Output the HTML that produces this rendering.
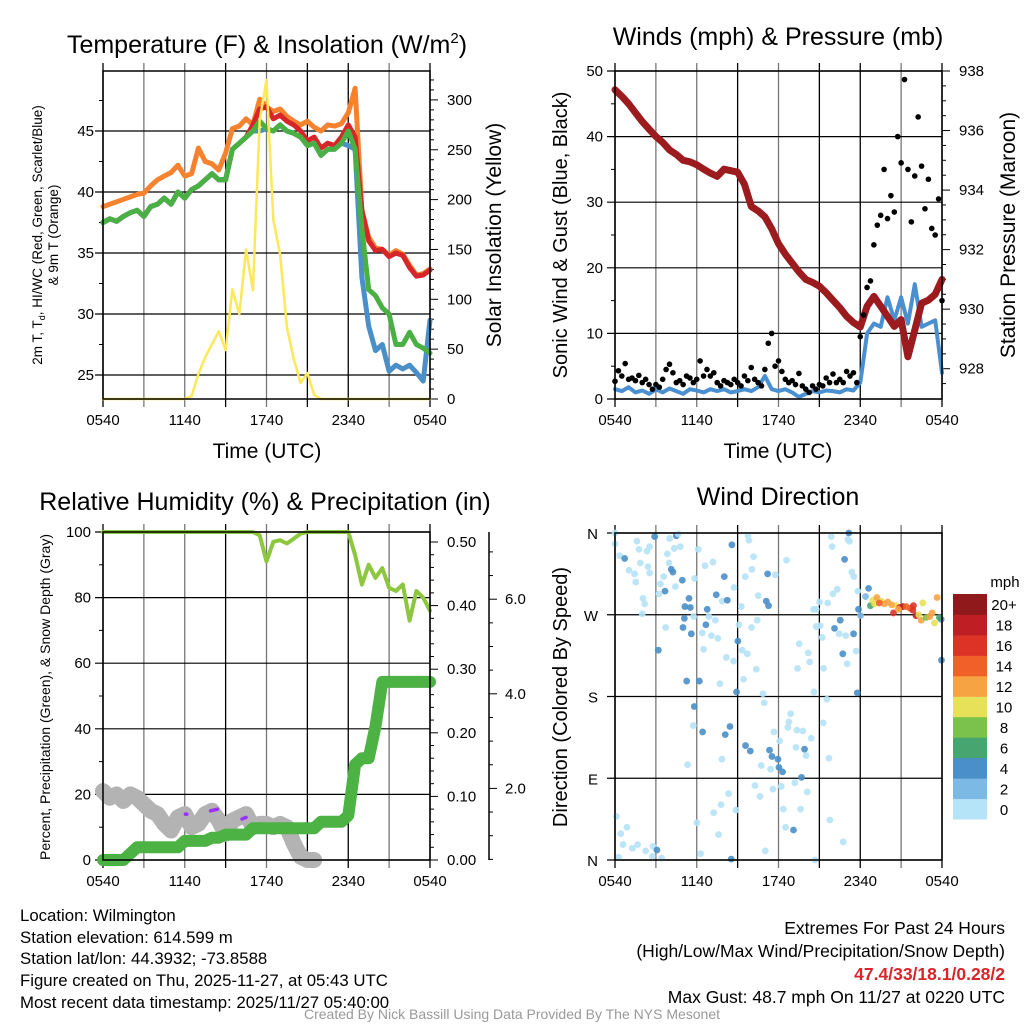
<!DOCTYPE html>
<html><head><meta charset="utf-8"><style>
html,body{margin:0;padding:0;background:#fff;}
svg{display:block;font-family:"Liberation Sans",Arial,sans-serif;}
</style></head><body>
<svg id="chart" width="1024" height="1024" viewBox="0 0 1024 1024" xmlns="http://www.w3.org/2000/svg">
<rect x="0" y="0" width="1024" height="1024" fill="#fff"/>
<text x="267" y="53" font-size="25" text-anchor="middle">Temperature (F) &amp; Insolation (W/m<tspan dy="-10" font-size="15">2</tspan><tspan dy="10">)</tspan></text>
<text x="778" y="45" font-size="25" text-anchor="middle">Winds (mph) &amp; Pressure (mb)</text>
<text x="265" y="510" font-size="25" text-anchor="middle">Relative Humidity (%) &amp; Precipitation (in)</text>
<text x="778" y="505" font-size="25" text-anchor="middle">Wind Direction</text>

<text x="267" y="458" font-size="21" text-anchor="middle">Time (UTC)</text>
<text x="778" y="458" font-size="21" text-anchor="middle">Time (UTC)</text>
<text transform="translate(42,235) rotate(-90)" font-size="13.5" text-anchor="middle">2m T, T<tspan dy="3" font-size="9">d</tspan><tspan dy="-3">, HI/WC (Red, Green, Scarlet/Blue)</tspan></text>
<text transform="translate(58,235) rotate(-90)" font-size="13.5" text-anchor="middle">&amp; 9m T (Orange)</text>
<text transform="translate(501,235) rotate(-90)" font-size="21" text-anchor="middle">Solar Insolation (Yellow)</text>
<text transform="translate(567,235) rotate(-90)" font-size="20" text-anchor="middle">Sonic Wind &amp; Gust (Blue, Black)</text>
<text transform="translate(1015,235) rotate(-90)" font-size="21" text-anchor="middle">Station Pressure (Maroon)</text>
<text transform="translate(50,697) rotate(-90)" font-size="14" text-anchor="middle">Percent, Precipitation (Green), &amp; Snow Depth (Gray)</text>
<text transform="translate(567,697) rotate(-90)" font-size="20" text-anchor="middle">Direction (Colored By Speed)</text>

<g font-size="16.8">
<text x="20" y="921">Location: Wilmington</text>
<text x="20" y="943">Station elevation: 614.599 m</text>
<text x="20" y="964">Station lat/lon: 44.3932; -73.8588</text>
<text x="20" y="986">Figure created on Thu, 2025-11-27, at 05:43 UTC</text>
<text x="20" y="1008">Most recent data timestamp: 2025/11/27 05:40:00</text>
</g>
<g font-size="17.5" text-anchor="end">
<text x="1005" y="934">Extremes For Past 24 Hours</text>
<text x="1005" y="957">(High/Low/Max Wind/Precipitation/Snow Depth)</text>
<text x="1005" y="980" fill="#d7262a" font-weight="bold">47.4/33/18.1/0.28/2</text>
<text x="1005" y="1003">Max Gust: 48.7 mph On 11/27 at 0220 UTC</text>
</g>
<text x="512" y="1019" font-size="14" fill="#999" text-anchor="middle">Created By Nick Bassill Using Data Provided By The NYS Mesonet</text>
<g id="layer"></g>
</svg>
<script>
// ---------- data (half-hourly from 0540 UTC) ----------
const xTickLabels = ["0540","1140","1740","2340","0540"];
const orangeT = [38.8,39.0,39.2,39.4,39.6,39.8,39.9,40.5,41.0,41.3,41.6,42.2,41.3,41.5,43.6,42.5,42.3,41.8,43.2,45.2,45.4,46.0,45.5,47.6,47.0,46.6,46.8,46.2,45.8,45.5,45.8,45.3,45.0,45.5,45.4,45.6,46.5,48.5,38.5,36.3,35.4,35.3,34.8,35.2,34.9,34.0,33.2,33.3,33.7];
const redT = [37.5,37.8,37.6,38.0,38.3,38.5,38.0,38.8,39.0,39.5,39.0,40.0,39.5,40.2,40.5,41.0,41.5,41.0,41.0,43.5,44.0,44.5,45.5,46.8,47.0,46.0,46.3,45.8,45.5,45.0,44.2,44.5,43.6,44.0,43.8,44.5,45.5,44.5,38.5,36.0,35.2,35.3,34.7,35.0,34.8,33.8,33.1,33.2,33.6];
const greenT = [37.5,37.8,37.6,38.0,38.3,38.5,38.0,38.8,39.0,39.5,39.0,40.0,39.5,40.2,40.5,41.0,41.5,41.0,41.0,43.5,44.0,44.5,45.0,45.8,45.2,45.0,45.5,45.0,44.8,44.5,43.8,44.0,43.0,43.5,43.5,44.0,45.0,43.5,37.0,32.0,31.5,30.5,30.0,27.5,27.5,28.5,27.5,27.2,26.8];
const blueT = [37.5,37.8,37.6,38.0,38.3,38.5,38.0,38.8,39.0,39.5,39.0,40.0,39.5,40.2,40.5,41.0,41.5,41.0,41.0,43.5,44.0,44.5,45.0,45.0,45.2,45.0,45.5,45.0,44.8,44.5,43.8,44.0,43.0,43.5,43.5,44.0,43.8,43.5,33.0,29.0,27.0,27.5,25.3,25.8,25.5,25.8,25.2,24.5,29.5];
const solar = [0,0,0,0,0,0,0,0,0,0,0,0,0,3,25,42,55,68,49,110,85,150,109,280,320,180,145,72,40,16,26,4,0,0,0,0,0,0,0,0,0,0,0,0,0,0,0,0,0];
const windSpeed = [1.5,1.2,1.8,1.0,1.3,0.8,1.5,1.0,1.6,1.2,0.8,1.5,1.3,1.0,1.5,1.2,1.5,1.0,1.2,1.5,1.2,1.8,3.5,1.5,1.2,1.5,1.0,0.3,0.8,1.2,1.0,1.3,1.2,1.0,1.5,1.3,2.5,10.0,11.5,11.0,15.5,12.0,15.5,11.5,17.5,11.0,11.5,12.0,4.0];
const pressure = [937.37,937.15,936.9,936.6,936.3,936.05,935.8,935.6,935.35,935.2,935.0,934.95,934.85,934.7,934.57,934.46,934.7,934.65,934.6,934.2,933.45,933.3,933.1,932.7,932.2,931.85,931.55,931.25,931.0,930.9,930.77,930.55,930.3,930.05,929.76,929.55,929.4,930.1,930.43,930.1,929.76,929.42,929.65,928.4,929.3,930.2,930.3,930.5,931.0];
// gusts every 15 minutes
const gusts = [2.7,4.3,3.5,5.4,3.0,3.2,2.8,3.6,2.5,3.0,2.2,1.5, 2.2,1.8,3.0,4.5,5.3,4.0,2.5,2.8,2.2,3.5,3.2,2.5, 3.0,5.8,3.5,4.5,3.5,4.0,2.5,2.0,2.8,2.5,2.2,3.0, 2.5,2.0,3.5,2.8,4.8,3.0,2.5,2.0,4.5,8.5,10.0,5.0, 5.8,4.2,3.0,2.5,2.8,2.2,3.9,2.0,1.5,1.0,2.0,1.5, 2.2,2.0,3.2,2.5,3.8,2.5,3.0,2.5,4.2,3.5,4.0,2.5, 9.5,12.8,17.0,18.0,23.5,26.5,28.0,35.0,27.5,31.0,28.5,40.0, 36.0,48.7,35.0,27.0,34.0,43.0,35.5,29.0,33.5,26.0,25.0,30.5, 15.0];
const humidity = [100,100,100,100,100,100,100,100,100,100,100,100,100,100,100,100,100,100,100,100,100,100,100,99,91,97,97.5,96.5,98,99.5,100,100,100,100,100,100,100,93,84,90,86,89,83,82,84,73,82,80,76];
const precip = [0,0,0,0,0.01,0.02,0.02,0.02,0.02,0.02,0.02,0.02,0.03,0.03,0.03,0.03,0.035,0.035,0.04,0.04,0.04,0.04,0.05,0.05,0.05,0.05,0.05,0.05,0.05,0.05,0.05,0.05,0.06,0.06,0.06,0.06,0.07,0.15,0.16,0.16,0.21,0.28,0.28,0.28,0.28,0.28,0.28,0.28,0.28];
const snowDepth = [21,19,20,18,20,19,17,15,14,11,9,13,14,10,11,14,15,12,8,12,13,14,10,11,11,10,11,10,5,1,0,0];
const purpleHours = [[6.05,6.15],[7.9,8.4],[10.2,10.5]];
const purpleVals = [[14,14],[15,15.5],[12.5,13]];
// wind direction observations
const dirHours = [0.0,0.0,0.34,0.71,1.03,1.44,1.52,1.61,1.76,1.86,2.05,2.18,2.0,2.35,2.54,2.42,2.54,2.91,3.33,3.57,3.67,3.23,3.72,3.18,3.84,4.01,4.13,4.25,3.96,4.35,4.5,4.65,4.79,4.43,4.94,5.13,5.43,5.09,4.99,5.6,5.53,5.84,6.11,5.77,6.6,6.77,6.67,6.41,6.5,6.89,7.19,7.36,7.43,7.07,7.55,7.87,8.02,8.24,8.17,8.73,9.1,9.27,9.02,9.56,9.76,9.83,10.17,10.05,9.34,9.71,8.7,8.58,10.51,10.44,10.02,11.2,11.76,11.1,11.27,12.59,10.37,9.44,10.86,10.95,8.92,7.7,5.26,6.19,5.82,5.75,6.43,8.09,8.44,7.85,5.33,9.58,9.93,11.34,11.52,11.96,12.03,12.3,10.73,11.42,11.66,12.08,12.89,12.76,12.69,13.35,13.79,14.4,13.91,13.28,14.03,15.7,15.28,15.55,14.6,13.52,14.18,14.28,13.4,15.31,15.21,14.77,15.06,14.77,15.01,14.57,15.62,15.99,16.31,15.94,15.87,17.16,17.21,17.09,16.85,17.38,17.53,17.82,16.53,16.11,16.45,16.72,17.04,17.51,16.94,17.7,17.78,12.2,13.69,13.2,14.11,13.62,11.59,10.27,10.64,8.34,8.88,7.78,7.24,7.6,6.01,6.28,8.53,11.03,14.69,15.77,16.75,12.35,12.52,13.1,0.1,0.42,0.59,0.88,1.27,1.66,2.25,2.79,3.08,2.74,3.42,0.27,23.96,23.94,17.87,18.02,18.39,18.61,18.75,18.92,19.22,19.54,20.02,20.44,20.64,20.88,21.12,21.66,22.1,22.47,22.59,22.84,23.28,23.45,23.64,23.81,19.05,19.78,21.37,21.86,19.4,20.3,20.8,21.9,22.3,23.1];
const dirDegrees = [360,348,335,332,319,315,306,351,342,327,288,282,271,340,345,323,316,356,304,312,296,293,256,231,337,354,320,317,327,343,357,359,345,301,308,279,288,266,256,249,278,310,342,268,324,276,259,250,232,268,328,264,292,247,244,285,312,286,223,300,259,279,241,312,357,352,334,320,231,227,219,347,291,264,256,315,314,285,280,330,210,199,183,173,185,194,197,197,169,148,141,138,147,111,105,126,120,121,114,111,102,97,104,100,141,131,161,152,146,143,142,134,122,124,115,112,151,177,185,238,228,218,211,211,245,257,258,276,284,276,283,293,298,345,356,360,351,353,331,317,312,296,264,255,249,227,216,249,247,230,184,81,91,85,75,56,78,82,70,73,55,61,52,28,41,7,1,10,0,44,20,56,36,33,48,29,17,36,13,17,10,15,11,4,2,3,220,265,276,269,290,299,280,286,289,285,284,272,280,278,279,277,269,264,283,267,272,261,289,267,282,282,279,275,283,281,276,280,270,268];
const dirSpeeds = [0.5,0.5,0.5,4.2,0.5,0.5,0.5,0.5,0.5,0.5,0.5,0.5,0.5,0.5,0.5,0.5,0.5,4.2,0.5,0.5,4.2,0.5,0.5,4.2,0.5,0.5,4.2,4.2,0.5,0.5,4.2,0.5,0.5,0.5,4.2,4.2,4.2,4.2,4.2,4.2,4.2,0.5,0.5,0.5,0.5,4.2,4.2,0.5,0.5,0.5,0.5,0.5,4.2,0.5,0.5,0.5,4.2,4.2,0.5,0.5,0.5,0.5,4.2,0.5,0.5,0.5,0.5,0.5,0.5,0.5,0.5,4.2,0.5,0.5,0.5,5.5,0.5,4.2,4.2,0.5,0.5,0.5,0.5,0.5,4.2,0.5,4.2,4.2,4.2,0.5,4.2,4.2,4.2,0.5,0.5,4.2,4.2,4.2,4.2,4.2,4.2,4.2,0.5,0.5,0.5,0.5,0.5,0.5,0.5,0.5,0.5,0.5,4.2,0.5,0.5,0.5,0.5,0.5,0.5,0.5,0.5,0.5,0.5,0.5,0.5,0.5,0.5,0.5,0.5,0.5,0.5,0.5,0.5,0.5,0.5,4.2,0.5,0.5,4.2,0.5,0.5,0.5,4.2,4.2,0.5,4.2,0.5,4.2,0.5,0.5,4.2,0.5,4.2,0.5,0.5,0.5,0.5,0.5,0.5,0.5,0.5,0.5,0.5,0.5,0.5,0.5,4.2,0.5,0.5,0.5,0.5,0.5,0.5,4.2,0.5,0.5,0.5,0.5,0.5,0.5,0.5,0.5,4.2,0.5,0.5,0.5,4.2,4.2,4.2,3,3,4.5,7,10,12,11,13,16,10,17,18,14,18,13,10,8,12,10,13,7,11,13,14,16,15,12,13,17,11,12,14];
const speedBins = ["0","2","4","6","8","10","12","14","16","18","20+"];
const speedColors = ["#b5e3f7","#7db9e5","#4a8fc8","#47a570","#7bc24d","#e7e059","#f6a443","#ef6128","#dc3326","#be1e24","#8f1a1b"];

// ---------- helpers ----------
const NS = "http://www.w3.org/2000/svg";
const layer = document.getElementById("layer");
function mk(tag, attrs, parent){
  const e = document.createElementNS(NS, tag);
  for (const k in attrs) e.setAttribute(k, attrs[k]);
  (parent || layer).appendChild(e);
  return e;
}
function txt(x, y, s, size, anchor){
  const e = mk("text", {x:x, y:y, "font-size":size, "text-anchor":anchor});
  e.textContent = s;
  return e;
}
const halfHours = humidity.map((_, i) => i * 0.5);
const P = {
  tl:{x0:103,x1:430,y0:71,y1:399}, tr:{x0:615,x1:942,y0:71,y1:399},
  bl:{x0:103,x1:430,y0:532,y1:860}, br:{x0:615,x1:942,y0:533,y1:860}
};
function xAt(p, h){ return p.x0 + h * (p.x1 - p.x0) / 24; }
const yTemp = t => 131 + (45 - t) * 12.2;
const ySolar = s => 399 - s * 0.997;
const yWind = w => 399 - w * 6.56;
const yPres = p => 71 + (938 - p) * 29.77;
const yRH = r => 860 - r * 3.28;
const yPrecip = v => 860 - v * 636;
const yDir = d => 860 - d * 327 / 360;

function frame(p, name){
  for (let k = 1; k < 8; k++){
    const x = xAt(p, k * 3);
    const g = mk("line", {x1:x, x2:x, y1:p.y0-8, y2:p.y1+8, stroke:(k%3===0||k===5)?"#000":"#777", "stroke-width":1.3});
    
    
  }
  for (let k = 0; k <= 8; k += 8){
    const x = xAt(p, k * 3);
    const g = mk("line", {x1:x, x2:x, y1:p.y0-8, y2:p.y1+8, stroke:"#000", "stroke-width":1.3});
    
    
  }
  xTickLabels.forEach((lab, i) => {
    const t = txt(xAt(p, i * 6), p.y1 + 26, lab, 15, "middle");
    
    
  });
}
function boxOutline(p, name){
  const r = mk("rect", {x:p.x0, y:p.y0, width:p.x1-p.x0, height:p.y1-p.y0, fill:"none", stroke:"#000", "stroke-width":1.5});
  
  
}
function hLine(p, y, name){
  const l = mk("line", {x1:p.x0-8, x2:p.x1, y1:y, y2:y, stroke:"#000", "stroke-width":1.2});
  
  
}
function minorTick(x, y, len, name){
  const l = mk("line", {x1:x, x2:x+len, y1:y, y2:y, stroke:"#000", "stroke-width":1});
  
  
}
function pathFrom(xs, ys){
  return xs.map((x, i) => (i ? "L" : "M") + x.toFixed(1) + "," + ys[i].toFixed(1)).join("");
}
function series(p, vals, yfn, color, w, name, hrs){
  const hh = hrs || halfHours;
  const d = pathFrom(vals.map((v, i) => xAt(p, hh[i])), vals.map(v => yfn(v)));
  const e = mk("path", {d:d, fill:"none", stroke:color, "stroke-width":w, "stroke-linejoin":"round", "stroke-linecap":"round"});
  
  
  return e;
}

// ---------- panel 1: temperature ----------
(function(){
  const p = P.tl;
  frame(p, "temp");
  [25,30,35,40,45].forEach(v => {
    hLine(p, yTemp(v), "temp-horizontal-gridline");
    const t = txt(p.x0 - 9, yTemp(v) + 5, String(v), 15, "end");
    
    
  });
  [27.5,32.5,37.5,42.5,47.5].forEach(v => minorTick(p.x0-4, yTemp(v), 4, "temp-minor-tick"));
  for (let s = 0; s <= 320; s += 10){
    minorTick(p.x1, ySolar(s), s % 50 === 0 ? 8 : 4, "solar-tick");
  }
  for (let s = 0; s <= 300; s += 50){
    const t = txt(p.x1 + 17, ySolar(s) + 5, String(s), 15, "start");
    
    
  }
  series(p, orangeT, yTemp, "#f5822f", 5, "temp-9m-line-orange");
  series(p, redT, yTemp, "#d7262a", 5, "temp-2m-line-red");
  series(p, blueT, yTemp, "#4a8fc8", 5, "windchill-line-blue");
  series(p, greenT, yTemp, "#4bb044", 5, "dewpoint-line-green");
  series(p, solar, ySolar, "#fde859", 2.5, "solar-insolation-line");
  boxOutline(p, "temp");
})();

// ---------- panel 2: winds & pressure ----------
(function(){
  const p = P.tr;
  frame(p, "wind");
  [0,10,20,30,40,50].forEach(v => {
    hLine(p, yWind(v), "wind-horizontal-gridline");
    const t = txt(p.x0 - 12, yWind(v) + 5, String(v), 15, "end");
    
    
  });
  [5,15,25,35,45].forEach(v => minorTick(p.x0-4, yWind(v), 4, "wind-minor-tick"));
  for (let v = 927.5; v <= 938.01; v += 0.5){
    minorTick(p.x1, yPres(v), Math.abs(v % 2) < 0.01 ? 8 : 4, "pressure-tick");
  }
  [928,930,932,934,936,938].forEach(v => {
    const t = txt(p.x1 + 17, yPres(v) + 5, String(v), 15, "start");
    
    
  });
  series(p, windSpeed, yWind, "#4a90d0", 4, "sonic-wind-speed-line");
  series(p, pressure, yPres, "#9b1b1e", 7, "station-pressure-line");
  gusts.forEach((g, i) => {
    const c = mk("circle", {cx:xAt(p, i*0.25), cy:yWind(g), r:2.8, fill:"#000"});
    
    
  });
  boxOutline(p, "wind");
})();

// ---------- panel 3: humidity & precip ----------
(function(){
  const p = P.bl;
  frame(p, "humidity");
  [0,20,40,60,80,100].forEach(v => {
    hLine(p, yRH(v), "humidity-horizontal-gridline");
    const t = txt(p.x0 - 12, yRH(v) + 5, String(v), 15, "end");
    
    
  });
  [10,30,50,70,90].forEach(v => minorTick(p.x0-4, yRH(v), 4, "humidity-minor-tick"));
  for (let k = 0; k <= 25; k++){
    const v = k * 0.02;
    minorTick(p.x1, yPrecip(v), k % 5 === 0 ? 8 : 4, "precip-tick");
  }
  [0,0.1,0.2,0.3,0.4,0.5].forEach(v => {
    const t = txt(p.x1 + 17, yPrecip(v) + 5, v.toFixed(2), 15, "start");
    
    
  });
  const ax = mk("line", {x1:489, x2:489, y1:532, y2:860, stroke:"#000", "stroke-width":1.5});
  
  
  const ySnow = s => 883 - s * 47.3;
  for (let v = 0.5; v <= 7; v += 0.5){
    if (ySnow(v) < 532 || ySnow(v) > 860) continue;
    minorTick(489, ySnow(v), v % 2 === 0 ? 8 : 4, "snow-depth-tick");
  }
  [2,4,6].forEach(v => {
    const t = txt(505, ySnow(v) + 5, v.toFixed(1), 15, "start");
    
    
  });
  series(p, snowDepth, yRH, "#b3b3b3", 16, "snow-depth-line");
  purpleHours.forEach((hs, i) => {
    series(p, purpleVals[i], yRH, "#9b30ff", 3.5, "snow-depth-marker", hs);
  });
  series(p, precip, yPrecip, "#4cb244", 12, "precipitation-line");
  series(p, humidity, yRH, "#8dc63f", 4, "relative-humidity-line");
  boxOutline(p, "humidity");
})();

// ---------- panel 4: wind direction ----------
(function(){
  const p = P.br;
  frame(p, "direction");
  const dirLabels = ["N","E","S","W","N"];
  [0,90,180,270,360].forEach((v, i) => {
    hLine(p, yDir(v), "direction-horizontal-gridline");
    const t = txt(p.x0 - 17, yDir(v) + 6, dirLabels[i], 15, "end");
    
    
  });
  function colorFor(s){ return speedColors[Math.min(10, Math.floor(s / 2))]; }
  dirHours.forEach((h, i) => {
    const c = mk("circle", {cx:xAt(p, h), cy:yDir(dirDegrees[i]), r:3.4, fill:colorFor(dirSpeeds[i]), "fill-opacity":0.9});
    
    
  });
  boxOutline(p, "direction");
  const binH = 225 / 11;
  speedBins.forEach((lab, i) => {
    const y = 819 - (i + 1) * binH;
    const r = mk("rect", {x:953, y:y, width:34, height:binH + 0.5, fill:speedColors[i]});
    
    
    const t = txt(1004, y + binH/2 + 6, lab, 15, "middle");
    
    
  });
  const m = txt(1005, 587, "mph", 15, "middle");
  
  
})();
</script>
</body></html>
